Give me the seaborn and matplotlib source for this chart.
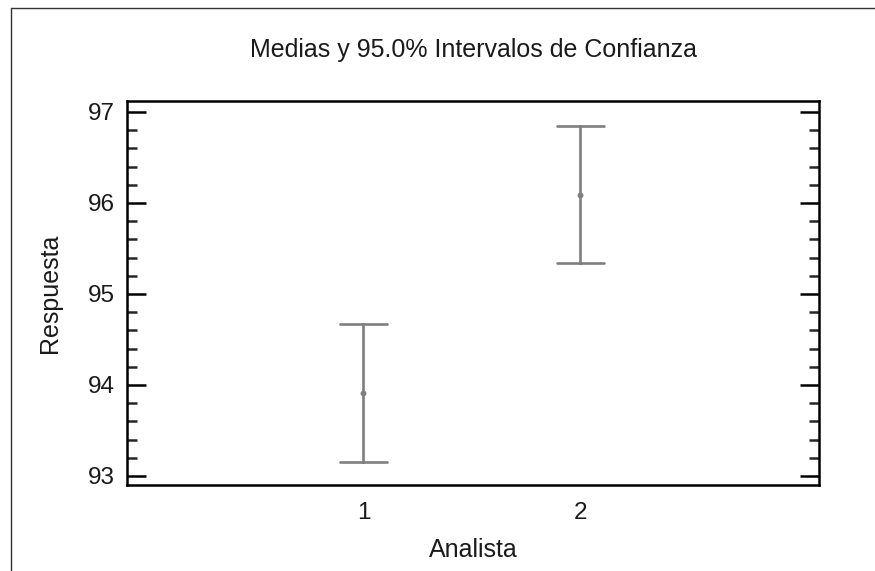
import matplotlib
matplotlib.use("Agg")
import matplotlib.pyplot as plt
from matplotlib.lines import Line2D
from matplotlib.ticker import MultipleLocator
import numpy as np
import pandas as pd
import seaborn as sns

# Means and 95% confidence limits per analyst
analistas = ["1", "2"]
medias = [93.91, 96.09]
limite_inferior = [93.15, 95.34]
limite_superior = [94.67, 96.85]

sns.set_theme(style="white")
plt.rcParams["font.family"] = ["Liberation Sans", "DejaVu Sans"]

# Long table: each group holds its lower limit, mean and upper limit
df = pd.DataFrame({
    "Analista": np.repeat(analistas, 3),
    "Respuesta": np.ravel(np.column_stack([limite_inferior, medias, limite_superior])),
})

fig = plt.figure(figsize=(8.75, 5.71), dpi=100)
ax = fig.add_axes([127 / 875, 1 - 485 / 571, (819 - 127) / 875, (485 - 101) / 571])

sns.pointplot(
    data=df, x="Analista", y="Respuesta", order=analistas,
    estimator="median", errorbar=lambda v: (v.min(), v.max()),
    capsize=0.22, linestyle="none", color="#7f7f7f",
    err_kws={"linewidth": 1.9}, markers="o", markersize=2.2, ax=ax,
)
for coll in ax.collections:
    coll.set_facecolor("#404040")
    coll.set_edgecolor("#404040")

ax.set_xlim(-1.09, 2.1)
ax.set_ylim(92.9, 97.12)
ax.yaxis.set_major_locator(MultipleLocator(1))
ax.yaxis.set_minor_locator(MultipleLocator(0.2))
ax.tick_params(axis="y", which="major", direction="in", length=14, width=1.8,
               left=True, right=True, labelsize=17.5, pad=9, colors="black")
ax.tick_params(axis="y", which="minor", direction="in", length=7, width=1.8,
               left=True, right=True)
ax.tick_params(axis="x", length=0, labelsize=17.5, pad=12, colors="black")
ax.yaxis.set_tick_params(labelcolor="#1a1a1a")
ax.xaxis.set_tick_params(labelcolor="#1a1a1a")

for sp in ax.spines.values():
    sp.set_visible(True)
    sp.set_color("black")
    sp.set_linewidth(1.8)

ax.set_xlabel("Analista", fontsize=18, color="#1a1a1a", labelpad=10)
ax.set_ylabel("Respuesta", fontsize=18, color="#1a1a1a", labelpad=18)
fig.text(473 / 875, 1 - 50 / 571, "Medias y 95.0% Intervalos de Confianza",
         ha="center", va="center", fontsize=18, color="#1a1a1a")

# Thin frame along the top and left edges
fig.add_artist(Line2D([11 / 875, 11 / 875], [0, 1 - 7.5 / 571],
                      transform=fig.transFigure, color="#333333", linewidth=1.0))
fig.add_artist(Line2D([11 / 875, 1], [1 - 7.5 / 571, 1 - 7.5 / 571],
                      transform=fig.transFigure, color="#333333", linewidth=1.0))

fig.savefig("out.png", dpi=100, facecolor="white")
